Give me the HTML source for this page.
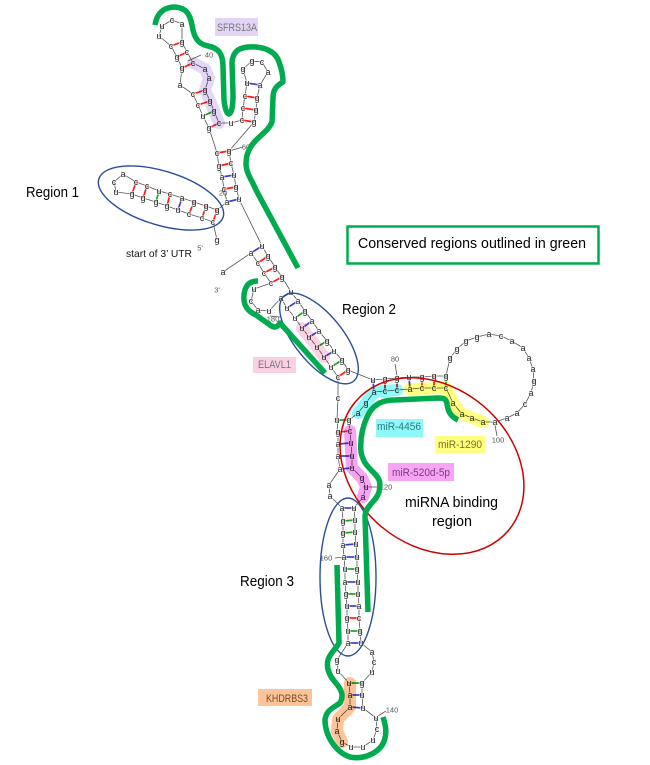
<!DOCTYPE html>
<html><head><meta charset="utf-8"><style>
html,body{margin:0;padding:0;background:#fff;width:650px;height:765px;overflow:hidden}
svg{display:block;font-family:"Liberation Sans",sans-serif}
.n text{font-size:9px;fill:#222;text-anchor:middle;dominant-baseline:central;stroke:#fff;stroke-width:1.2px;paint-order:stroke}
.s{font-size:7.5px;fill:#555;text-anchor:middle;dominant-baseline:central}
.hl{fill:none;stroke-width:12;stroke-linecap:round;stroke-linejoin:round;mix-blend-mode:multiply}
.g{fill:none;stroke:#00ab4f;stroke-width:5.5;stroke-linecap:butt;stroke-linejoin:round}
.e{fill:none;stroke:#2a4f96;stroke-width:1.4}
.t{font-size:14.5px;fill:#000}
.l{font-size:11px;text-anchor:middle;dominant-baseline:central}
.r line{stroke:#ff1a1a;stroke-width:1.7}.b line{stroke:#4040c8;stroke-width:1.7}.v line{stroke:#22a022;stroke-width:1.7}
</style></head><body>
<svg width="650" height="765" viewBox="0 0 650 765" xmlns="http://www.w3.org/2000/svg">
<defs><filter id="bl" filterUnits="userSpaceOnUse" x="0" y="0" width="650" height="765"><feGaussianBlur stdDeviation="0.3"/></filter></defs>
<rect width="650" height="765" fill="#fff"/>

<!-- backbone -->
<polyline fill="none" stroke="#555" stroke-width=".8" points="217,240 213,222 202,218 189,214 178,210 167,206 156,202 143,198 132,194 116,192 114,182 123,174 136,182 147,186 159,191 170,194 182,198 194,202 206,206 217,210 227,202 224,189 222,177 219,166 217,153 209,128 203,116 198,105 193,94 180,85 182,68 177,57 171,46 159,36 162,26 172,20 182,24 182,42 187,52 193,63 205,69 209,78 205,90 210,101 214,111 219,123 231,123 242,120 243,108 245,96 247,83 243,69 252,61 262,62 268,72 260,85 257,98 256,110 254,122 229,151 231,163 234,175 236,187 239,199 262,246 268,256 275,267 282,277 291,292 298,301 305,311 312,321 319,331 327,341 334,351 342,360 348,370 373,380 385,379 397,378 409,377 422,377 434,376 446,376 450,358 457,349 466,341 477,337 489,334 501,336 512,341 523,348 529,358 533,369 534,381 531,393 525,404 517,413 507,418 495,422 483,422 472,418 462,414 453,403 446,388 434,388 422,388 410,389 397,390 385,391 374,392 366,403 358,413 349,420 350,431 351,443 352,456 352,468 362,478 366,487 363,497 354,508 355,520 355,532 356,544 357,557 357,569 358,582 358,594 359,606 359,618 360,631 361,643 372,652 374,662 372,672 362,683 362,695 363,708 376,718 377,729 373,740 363,747 351,747 342,742 337,731 338,719 350,707 350,695 349,683 338,671 337,660 348,643 348,631 347,618 347,606 346,594 345,582 345,569 344,557 343,545 343,533 343,521 342,508 330,496 329,485 340,469 338,456 338,444 338,432 337,420 338,398 338,377 331,367 324,357 317,347 309,337 302,328 295,318 287,308 281,298 269,311 258,310 251,301 254,289 271,283 264,273 258,263 251,253 223,272"/>
<g stroke="#555" stroke-width=".8"><line x1="188" y1="61" x2="201" y2="55"/><line x1="229" y1="151" x2="243" y2="147"/><line x1="395" y1="364" x2="397" y2="376"/><line x1="495" y1="425" x2="497" y2="436"/><line x1="335" y1="558" x2="344" y2="557"/><line x1="363" y1="487" x2="380" y2="487"/><line x1="378" y1="716" x2="386" y2="711"/><line x1="270" y1="316" x2="280" y2="317"/></g>

<!-- pairs -->
<g class="r">
<line x1="213" y1="222" x2="217" y2="210"/><line x1="202" y1="218" x2="206" y2="206"/><line x1="189" y1="214" x2="194" y2="202"/><line x1="167" y1="206" x2="170" y2="194"/><line x1="143" y1="198" x2="147" y2="186"/><line x1="132" y1="194" x2="136" y2="182"/>
<line x1="224" y1="189" x2="236" y2="187"/><line x1="219" y1="166" x2="231" y2="163"/><line x1="217" y1="153" x2="229" y2="151"/>
<line x1="209" y1="128" x2="219" y2="123"/><line x1="198" y1="105" x2="210" y2="101"/><line x1="193" y1="94" x2="205" y2="90"/><line x1="182" y1="68" x2="193" y2="63"/><line x1="177" y1="57" x2="187" y2="52"/><line x1="171" y1="46" x2="182" y2="42"/>
<line x1="242" y1="120" x2="254" y2="122"/><line x1="243" y1="108" x2="256" y2="110"/><line x1="245" y1="96" x2="257" y2="98"/>
<line x1="268" y1="256" x2="258" y2="263"/><line x1="275" y1="267" x2="264" y2="273"/><line x1="282" y1="277" x2="271" y2="283"/><line x1="348" y1="370" x2="338" y2="377"/>
<line x1="385" y1="379" x2="385" y2="391"/><line x1="397" y1="378" x2="397" y2="390"/><line x1="422" y1="377" x2="422" y2="388"/><line x1="434" y1="376" x2="434" y2="388"/>
<line x1="338" y1="432" x2="350" y2="431"/><line x1="347" y1="618" x2="359" y2="618"/>
</g>
<g class="b">
<line x1="178" y1="210" x2="182" y2="198"/><line x1="227" y1="202" x2="239" y2="199"/><line x1="222" y1="177" x2="234" y2="175"/><line x1="247" y1="83" x2="260" y2="85"/>
<line x1="262" y1="246" x2="251" y2="253"/><line x1="291" y1="292" x2="281" y2="298"/><line x1="298" y1="301" x2="287" y2="308"/><line x1="312" y1="321" x2="302" y2="328"/><line x1="319" y1="331" x2="309" y2="337"/><line x1="334" y1="351" x2="324" y2="357"/>
<line x1="373" y1="380" x2="374" y2="392"/><line x1="409" y1="377" x2="410" y2="389"/>
<line x1="338" y1="444" x2="351" y2="443"/><line x1="338" y1="456" x2="352" y2="456"/><line x1="340" y1="469" x2="352" y2="468"/>
<line x1="342" y1="508" x2="354" y2="508"/><line x1="343" y1="545" x2="356" y2="544"/><line x1="344" y1="557" x2="357" y2="557"/><line x1="345" y1="582" x2="358" y2="582"/><line x1="347" y1="606" x2="359" y2="606"/><line x1="348" y1="643" x2="361" y2="643"/>
<line x1="350" y1="695" x2="362" y2="695"/><line x1="350" y1="707" x2="363" y2="708"/>
</g>
<g class="v">
<line x1="156" y1="202" x2="159" y2="191"/><line x1="203" y1="116" x2="214" y2="111"/><line x1="305" y1="311" x2="295" y2="318"/><line x1="327" y1="341" x2="317" y2="347"/><line x1="342" y1="360" x2="331" y2="367"/><line x1="446" y1="376" x2="446" y2="388"/><line x1="337" y1="420" x2="349" y2="420"/>
<line x1="343" y1="521" x2="355" y2="520"/><line x1="343" y1="533" x2="355" y2="532"/><line x1="345" y1="569" x2="357" y2="569"/><line x1="346" y1="594" x2="358" y2="594"/><line x1="348" y1="631" x2="360" y2="631"/><line x1="349" y1="683" x2="362" y2="683"/>
</g>

<!-- nucleotides -->
<g class="n" filter="url(#bl)">
<text x="217" y="240">g</text><text x="213" y="222">c</text><text x="202" y="218">c</text><text x="189" y="214">c</text><text x="178" y="210">u</text><text x="167" y="206">g</text><text x="156" y="202">g</text><text x="143" y="198">g</text><text x="132" y="194">g</text><text x="116" y="192">u</text><text x="114" y="182">c</text><text x="123" y="174">a</text><text x="136" y="182">c</text><text x="147" y="186">c</text><text x="159" y="191">u</text><text x="170" y="194">c</text><text x="182" y="198">a</text><text x="194" y="202">g</text><text x="206" y="206">g</text><text x="217" y="210">g</text><text x="227" y="202">a</text><text x="224" y="189">c</text><text x="222" y="177">a</text><text x="219" y="166">g</text><text x="217" y="153">c</text><text x="209" y="128">g</text><text x="203" y="116">u</text><text x="198" y="105">c</text><text x="193" y="94">c</text><text x="180" y="85">a</text><text x="182" y="68">g</text><text x="177" y="57">g</text><text x="171" y="46">c</text><text x="159" y="36">u</text><text x="162" y="26">u</text><text x="172" y="20">c</text><text x="182" y="24">a</text><text x="182" y="42">g</text><text x="187" y="52">c</text><text x="193" y="63">c</text><text x="205" y="69">a</text><text x="209" y="78">a</text><text x="205" y="90">g</text><text x="210" y="101">g</text><text x="214" y="111">g</text><text x="219" y="123">c</text><text x="231" y="123">u</text><text x="242" y="120">c</text><text x="243" y="108">c</text><text x="245" y="96">c</text><text x="247" y="83">u</text><text x="243" y="69">g</text><text x="252" y="61">g</text><text x="262" y="62">c</text><text x="268" y="72">a</text><text x="260" y="85">a</text><text x="257" y="98">g</text><text x="256" y="110">g</text><text x="254" y="122">g</text><text x="229" y="151">g</text><text x="231" y="163">c</text><text x="234" y="175">u</text><text x="236" y="187">g</text><text x="239" y="199">u</text>
<text x="262" y="246">u</text><text x="268" y="256">g</text><text x="275" y="267">g</text><text x="282" y="277">g</text><text x="291" y="292">u</text><text x="298" y="301">a</text><text x="305" y="311">g</text><text x="312" y="321">a</text><text x="319" y="331">a</text><text x="327" y="341">g</text><text x="334" y="351">u</text><text x="342" y="360">g</text><text x="348" y="370">g</text><text x="373" y="380">u</text><text x="385" y="379">g</text><text x="397" y="378">g</text><text x="409" y="377">u</text><text x="422" y="377">g</text><text x="434" y="376">g</text><text x="446" y="376">g</text><text x="450" y="358">g</text><text x="457" y="349">g</text><text x="466" y="341">g</text><text x="477" y="337">g</text><text x="489" y="334">a</text><text x="501" y="336">c</text><text x="512" y="341">a</text><text x="523" y="348">a</text><text x="529" y="358">a</text><text x="533" y="369">a</text><text x="534" y="381">g</text><text x="531" y="393">a</text><text x="525" y="404">c</text><text x="517" y="413">a</text><text x="507" y="418">a</text><text x="495" y="422">a</text><text x="483" y="422">a</text><text x="472" y="418">a</text><text x="462" y="414">a</text><text x="453" y="403">a</text><text x="446" y="388">c</text><text x="434" y="388">c</text><text x="422" y="388">c</text><text x="410" y="389">a</text><text x="397" y="390">c</text><text x="385" y="391">c</text><text x="374" y="392">a</text><text x="366" y="403">g</text><text x="358" y="413">a</text><text x="349" y="420">g</text><text x="350" y="431">c</text><text x="351" y="443">u</text><text x="352" y="456">u</text><text x="352" y="468">u</text><text x="362" y="478">g</text><text x="366" y="487">u</text><text x="363" y="497">a</text>
<text x="354" y="508">u</text><text x="355" y="520">u</text><text x="355" y="532">u</text><text x="356" y="544">u</text><text x="357" y="557">u</text><text x="357" y="569">g</text><text x="358" y="582">u</text><text x="358" y="594">u</text><text x="359" y="606">a</text><text x="359" y="618">c</text><text x="360" y="631">g</text><text x="361" y="643">u</text><text x="372" y="652">a</text><text x="374" y="662">c</text><text x="372" y="672">u</text><text x="362" y="683">g</text><text x="362" y="695">u</text><text x="363" y="708">u</text><text x="376" y="718">u</text><text x="377" y="729">c</text><text x="373" y="740">u</text><text x="363" y="747">u</text><text x="351" y="747">u</text><text x="342" y="742">g</text><text x="337" y="731">a</text><text x="338" y="719">u</text><text x="350" y="707">a</text><text x="350" y="695">a</text><text x="349" y="683">u</text><text x="338" y="671">u</text><text x="337" y="660">g</text><text x="348" y="643">a</text><text x="348" y="631">u</text><text x="347" y="618">g</text><text x="347" y="606">u</text><text x="346" y="594">g</text><text x="345" y="582">a</text><text x="345" y="569">u</text><text x="344" y="557">a</text><text x="343" y="545">a</text><text x="343" y="533">g</text><text x="343" y="521">g</text><text x="342" y="508">a</text><text x="330" y="496">a</text><text x="329" y="485">a</text><text x="340" y="469">a</text><text x="338" y="456">a</text><text x="338" y="444">a</text><text x="338" y="432">g</text><text x="337" y="420">u</text><text x="338" y="398">c</text><text x="338" y="377">c</text><text x="331" y="367">u</text><text x="324" y="357">u</text><text x="317" y="347">u</text><text x="309" y="337">u</text><text x="302" y="328">u</text><text x="295" y="318">u</text><text x="287" y="308">u</text><text x="281" y="298">a</text><text x="269" y="311">u</text><text x="258" y="310">a</text><text x="251" y="301">c</text><text x="254" y="289">u</text><text x="271" y="283">c</text><text x="264" y="273">c</text><text x="258" y="263">c</text><text x="251" y="253">a</text><text x="223" y="272">a</text>
</g>
<text class="s" x="200" y="248">5'</text><text class="s" x="217" y="290">3'</text>
<text class="s" x="209" y="55">40</text><text class="s" x="246" y="147">60</text><text class="s" x="223" y="193">20</text><text class="s" x="273" y="319">180</text><text class="s" x="395" y="359">80</text><text class="s" x="498" y="440">100</text><text class="s" x="386" y="487">120</text><text class="s" x="326" y="558">160</text><text class="s" x="392" y="710">140</text>

<!-- highlights -->
<polyline class="hl" stroke="#e3d6f6" points="193,63 205,69 209,78 205,90 210,101 214,111 219,123"/>
<polyline class="hl" stroke="#fbd3e5" points="302,328 309,337 317,347 324,357"/>
<polyline class="hl" stroke="#8ff8f8" points="358,413 366,403 374,392 385,391 397,390"/>
<polyline class="hl" stroke="#ffff80" points="410,389 446,388 453,403 462,414 483,422"/>
<polyline class="hl" stroke="#f8a4f4" points="350,431 352,468 362,478 366,487 363,497"/>
<polyline class="hl" stroke="#fcc498" points="350,683 350,707 338,719 337,731 342,742"/>

<!-- label boxes -->
<rect x="215" y="18" width="43" height="18" fill="#e3d4f6"/><text class="l" x="237" y="28" fill="#777" textLength="40" lengthAdjust="spacingAndGlyphs">SFRS13A</text>
<rect x="253" y="357" width="43" height="16" fill="#fbd0e2"/><text class="l" x="274.500" y="365" fill="#777" textLength="33" lengthAdjust="spacingAndGlyphs">ELAVL1</text>
<rect x="376" y="419" width="47" height="18" fill="#8ff8f8"/><text class="l" x="399" y="427" fill="#2a7a80" textLength="44" lengthAdjust="spacingAndGlyphs">miR-4456</text>
<rect x="435" y="436" width="50" height="17" fill="#ffff80"/><text class="l" x="460" y="445" fill="#806f20" textLength="44" lengthAdjust="spacingAndGlyphs">miR-1290</text>
<rect x="388" y="463" width="66" height="18" fill="#f8a4f4"/><text class="l" x="421" y="473" fill="#7a3a80" textLength="58" lengthAdjust="spacingAndGlyphs">miR-520d-5p</text>
<rect x="258" y="689" width="54" height="17" fill="#fcc498"/><text class="l" x="287" y="699" fill="#7a4a20" textLength="42" lengthAdjust="spacingAndGlyphs">KHDRBS3</text>

<!-- ellipses -->
<ellipse class="e" cx="161" cy="198" rx="65" ry="27" transform="rotate(17 161 198)"/>
<ellipse class="e" cx="319" cy="338.500" rx="55" ry="24" transform="rotate(51 319 338.500)"/>
<ellipse class="e" cx="348" cy="577" rx="28" ry="79"/>
<ellipse cx="432" cy="466" rx="100" ry="79" transform="rotate(40 432 466)" fill="none" stroke="#cc0000" stroke-width="1.500"/>

<!-- green conserved outlines -->
<path class="g" d="M155,25 C157,12 165,7 175,7 C187,8 190,15 192,25 C194,38 198,44 208,46 C218,48 223,53 223,67 L224,100 C225,110 227,114 229,114 C232,113 233,105 233,95 L232,62 C233,52 238,48 248,47 C265,46 276,52 279,62 C282,70 283,76 283,82 C276,86 273,90 273,98 L272,122 C268,132 258,136 252,145 C247,152 246,158 246,165 C247,175 252,180 256,190 L298,268"/>
<path class="g" d="M258,281 C250,281 245,285 244,295 C243,305 247,311 256,315 L270,325 C274,328 277,328 280,323 L325,373"/>
<path class="g" d="M458,420 C450,416 448,411 447,404 C446,398 443,398 438,398 L395,400 C380,400 372,406 367,417 C362,428 360,440 361,452 C363,462 367,466 374,473 C380,479 381,483 379,492 C376,502 366,505 365,516 L368,612"/>
<path class="g" d="M337,565 L339,643 C335,650 330,653 328,660 C326,668 329,675 335,682 C342,690 344,696 340,703 C333,708 326,710 325,720 C325,735 335,752 350,757 C365,760 382,752 385,738 C387,730 385,724 383,717"/>

<!-- text -->
<text class="t" x="26" y="197" textLength="53" lengthAdjust="spacingAndGlyphs">Region 1</text>
<text class="t" x="342" y="314" textLength="54" lengthAdjust="spacingAndGlyphs">Region 2</text>
<text class="t" x="240" y="586" textLength="54" lengthAdjust="spacingAndGlyphs">Region 3</text>
<text x="126" y="257" font-size="10.500" fill="#111" textLength="66" lengthAdjust="spacingAndGlyphs">start of 3’ UTR</text>
<rect x="347.500" y="226.500" width="251" height="37" fill="#fff" stroke="#00ab4f" stroke-width="2.500"/>
<text class="t" x="358" y="248" textLength="228" lengthAdjust="spacingAndGlyphs">Conserved regions outlined in green</text>
<text class="t" x="451.500" y="507" text-anchor="middle" textLength="93" lengthAdjust="spacingAndGlyphs">miRNA binding</text>
<text class="t" x="452" y="526" text-anchor="middle" textLength="40" lengthAdjust="spacingAndGlyphs">region</text>
</svg>
</body></html>
